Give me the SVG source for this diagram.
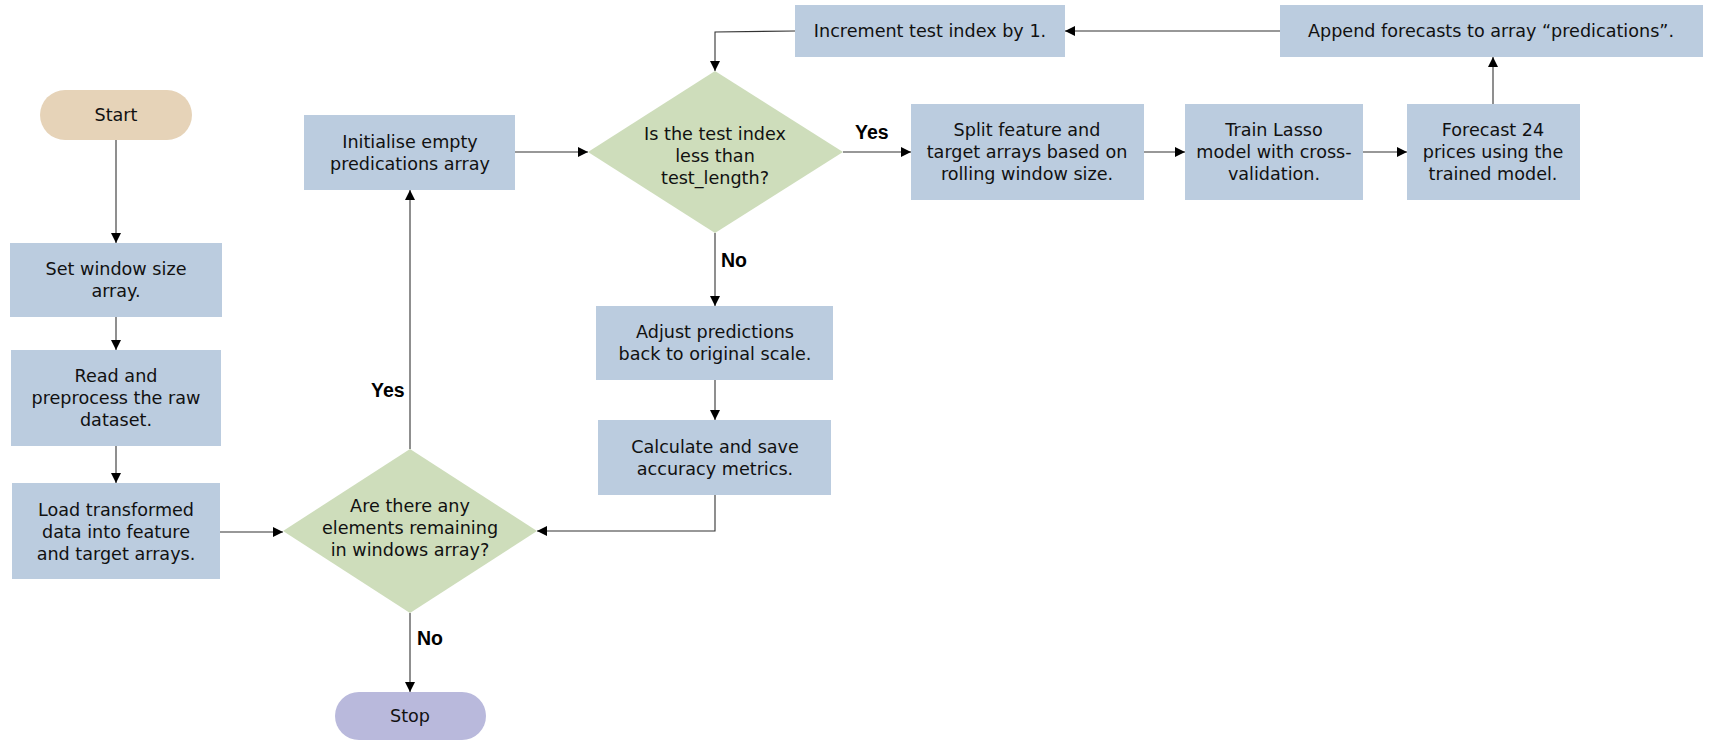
<svg xmlns="http://www.w3.org/2000/svg" width="1716" height="742" viewBox="0 0 1716 742">
<defs>
<marker id="ah" viewBox="0 0 10 10" refX="10" refY="5" markerWidth="10" markerHeight="10" markerUnits="userSpaceOnUse" orient="auto">
<path d="M0,0 L10,5 L0,10 z" fill="#000"/>
</marker>
<style>
.box{fill:#BBCCDF}
.dia{fill:#CEDDBB}
.t{font-family:"DejaVu Sans","Liberation Sans",sans-serif;font-size:17.6px;fill:#111;text-anchor:middle;dominant-baseline:central}
.lbl{font-family:"Liberation Sans","DejaVu Sans",sans-serif;font-size:19.5px;font-weight:bold;fill:#000;dominant-baseline:central}
.c{fill:none;stroke:#333;stroke-width:1.1;marker-end:url(#ah)}
</style>
</defs>
<rect width="1716" height="742" fill="#fff"/>
<g id="connectors">
<path class="c" d="M116,140 L116,243"/>
<path class="c" d="M116,317 L116,350"/>
<path class="c" d="M116,446 L116,483"/>
<path class="c" d="M220,532 L283,532"/>
<path class="c" d="M410,449 L410,190"/>
<path class="c" d="M515,152 L588,152"/>
<path class="c" d="M843,152 L911,152"/>
<path class="c" d="M1144,152 L1185,152"/>
<path class="c" d="M1363,152 L1407,152"/>
<path class="c" d="M1493,104 L1493,57"/>
<path class="c" d="M1280,31 L1065,31"/>
<path class="c" d="M795,31 L715,32 L715,71"/>
<path class="c" d="M715,233 L715,306"/>
<path class="c" d="M715,380 L715,420"/>
<path class="c" d="M715,495 L715,531 L537,531"/>
<path class="c" d="M410,613 L410,692"/>
<text class="lbl" x="855" y="132">Yes</text>
<text class="lbl" x="721" y="260">No</text>
<text class="lbl" x="371" y="390">Yes</text>
<text class="lbl" x="417" y="638">No</text>
</g>
<g id="start">
<rect x="40" y="90" width="152" height="50" rx="25" fill="#E6D3B8"/>
<text class="t" x="116" y="115">Start</text>
</g>
<g id="set-window">
<rect class="box" x="10" y="243" width="212" height="74"/>
<text class="t" x="116" y="269">Set window size</text>
<text class="t" x="116" y="291">array.</text>
</g>
<g id="read">
<rect class="box" x="11" y="350" width="210" height="96"/>
<text class="t" x="116" y="376">Read and</text>
<text class="t" x="116" y="398">preprocess the raw</text>
<text class="t" x="116" y="420">dataset.</text>
</g>
<g id="load">
<rect class="box" x="12" y="483" width="208" height="96"/>
<text class="t" x="116" y="510">Load transformed</text>
<text class="t" x="116" y="532">data into feature</text>
<text class="t" x="116" y="554">and target arrays.</text>
</g>
<g id="windows-decision">
<polygon class="dia" points="410,449 537,531 410,613 283,531"/>
<text class="t" x="410" y="506">Are there any</text>
<text class="t" x="410" y="528">elements remaining</text>
<text class="t" x="410" y="550">in windows array?</text>
</g>
<g id="stop">
<rect x="335" y="692" width="151" height="48" rx="24" fill="#B9B9DC"/>
<text class="t" x="410" y="716">Stop</text>
</g>
<g id="initialise">
<rect class="box" x="304" y="115" width="211" height="75"/>
<text class="t" x="410" y="142">Initialise empty</text>
<text class="t" x="410" y="164">predications array</text>
</g>
<g id="test-decision">
<polygon class="dia" points="715,71 843,152 715,233 588,152"/>
<text class="t" x="715" y="134">Is the test index</text>
<text class="t" x="715" y="156">less than</text>
<text class="t" x="715" y="178">test_length?</text>
</g>
<g id="adjust">
<rect class="box" x="596" y="306" width="237" height="74"/>
<text class="t" x="715" y="332">Adjust predictions</text>
<text class="t" x="715" y="354">back to original scale.</text>
</g>
<g id="calculate">
<rect class="box" x="598" y="420" width="233" height="75"/>
<text class="t" x="715" y="447">Calculate and save</text>
<text class="t" x="715" y="469">accuracy metrics.</text>
</g>
<g id="split">
<rect class="box" x="911" y="104" width="233" height="96"/>
<text class="t" x="1027" y="130">Split feature and</text>
<text class="t" x="1027" y="152">target arrays based on</text>
<text class="t" x="1027" y="174">rolling window size.</text>
</g>
<g id="train">
<rect class="box" x="1185" y="104" width="178" height="96"/>
<text class="t" x="1274" y="130">Train Lasso</text>
<text class="t" x="1274" y="152">model with cross-</text>
<text class="t" x="1274" y="174">validation.</text>
</g>
<g id="forecast">
<rect class="box" x="1407" y="104" width="173" height="96"/>
<text class="t" x="1493" y="130">Forecast 24</text>
<text class="t" x="1493" y="152">prices using the</text>
<text class="t" x="1493" y="174">trained model.</text>
</g>
<g id="append">
<rect class="box" x="1280" y="5" width="423" height="52"/>
<text class="t" x="1491" y="31">Append forecasts to array “predications”.</text>
</g>
<g id="increment">
<rect class="box" x="795" y="5" width="270" height="52"/>
<text class="t" x="930" y="31">Increment test index by 1.</text>
</g>
</svg>
